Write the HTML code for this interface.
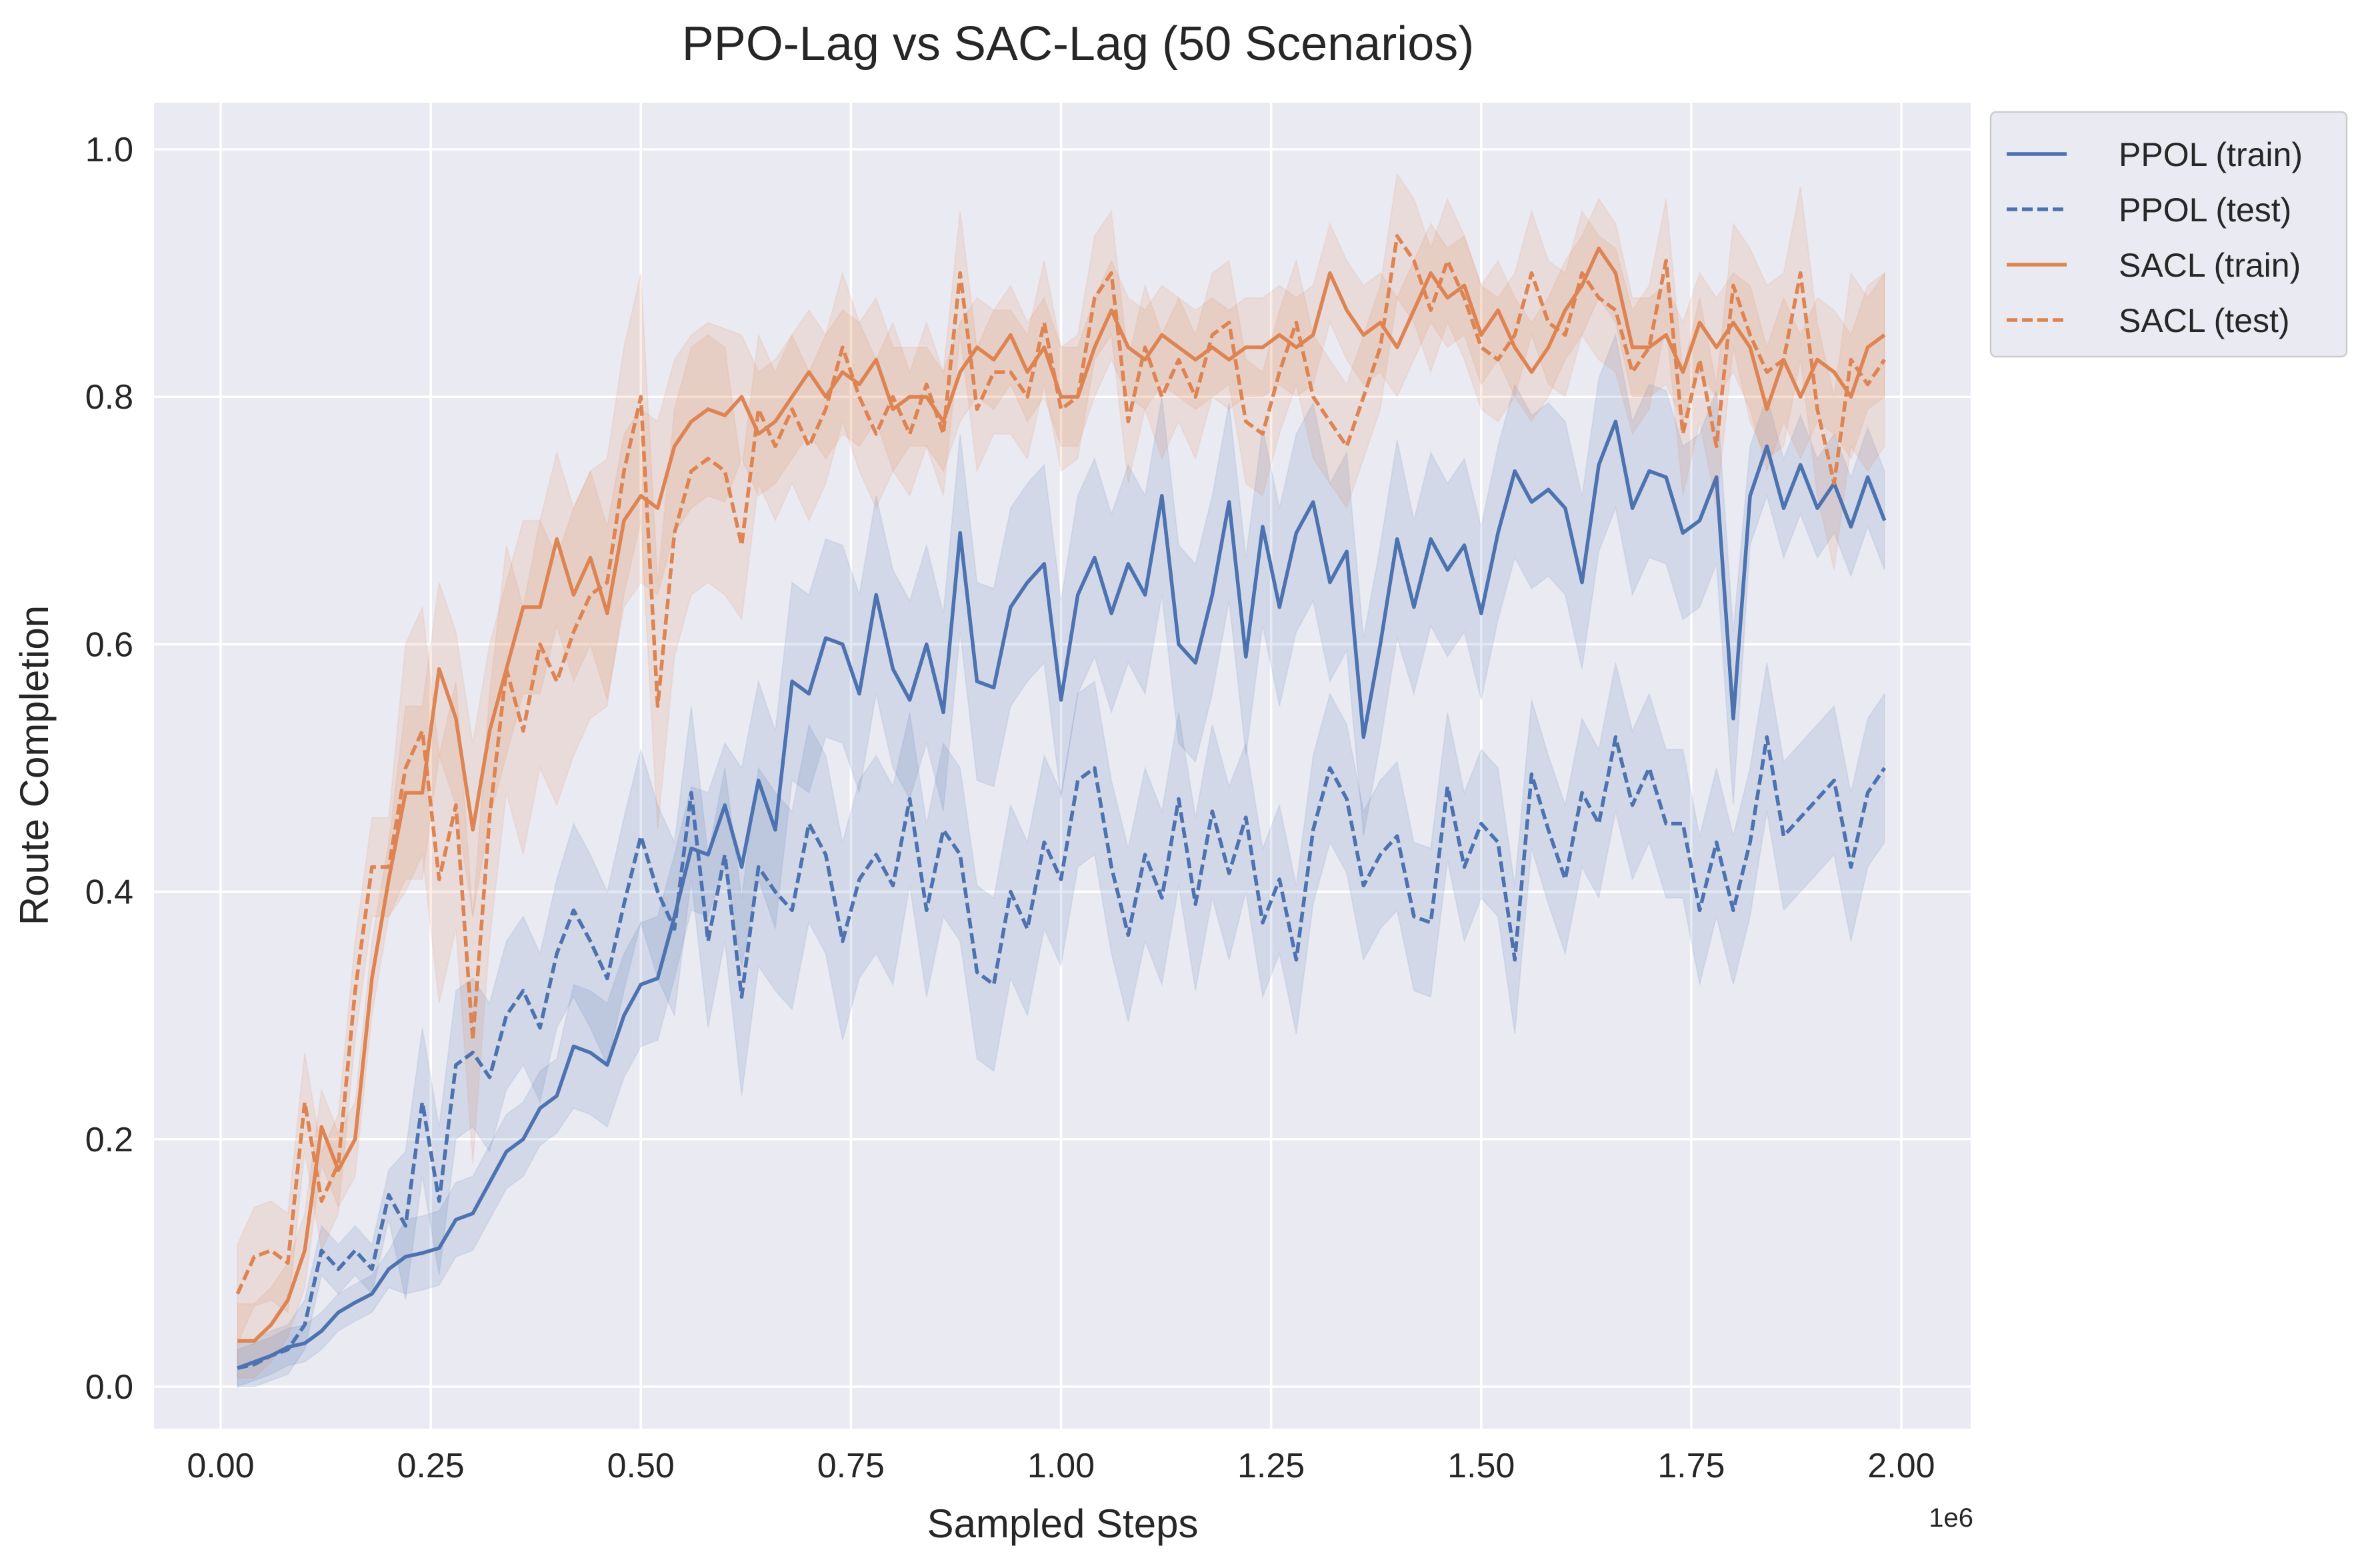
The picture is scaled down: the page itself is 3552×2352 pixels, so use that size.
<!DOCTYPE html>
<html><head><meta charset="utf-8">
<style>
html,body{margin:0;padding:0;background:#fff;}
svg{display:block;font-family:"Liberation Sans",sans-serif;}
</style></head>
<body>
<svg id="chart" width="3552" height="2352" viewBox="0 0 3552 2352" xmlns="http://www.w3.org/2000/svg">
  <rect x="0" y="0" width="3552" height="2352" fill="#ffffff"/>
  <rect x="231" y="154" width="2725" height="1989" fill="#eaeaf2"/>
  <g id="grid"></g>
  <g id="bands"></g>
  <g id="lines"></g>
  <g id="xticks"></g>
  <g id="yticks"></g>
  <text x="1617" y="90" font-size="72" text-anchor="middle" fill="#262626">PPO-Lag vs SAC-Lag (50 Scenarios)</text>
  <text x="1594" y="2306" font-size="60" text-anchor="middle" fill="#262626">Sampled Steps</text>
  <text x="72" y="1148" font-size="60" text-anchor="middle" fill="#262626" transform="rotate(-90 72 1148)">Route Completion</text>
  <text x="2960" y="2290" font-size="40" text-anchor="end" fill="#262626">1e6</text>
  <g>
    <rect x="2986" y="168" width="534" height="367" rx="8" fill="#eaeaf2" stroke="#cccccc" stroke-width="2.5"/>
    <g>
      <line x1="3010" y1="231" x2="3100" y2="231" stroke="#4c72b0" stroke-width="5.5"/>
      <text x="3178" y="249" font-size="50" fill="#262626">PPOL (train)</text>
    </g>
    <g>
      <line x1="3010" y1="314" x2="3100" y2="314" stroke="#4c72b0" stroke-width="5.5" stroke-dasharray="16,7"/>
      <text x="3178" y="332" font-size="50" fill="#262626">PPOL (test)</text>
    </g>
    <g>
      <line x1="3010" y1="397" x2="3100" y2="397" stroke="#dd8452" stroke-width="5.5"/>
      <text x="3178" y="415" font-size="50" fill="#262626">SACL (train)</text>
    </g>
    <g>
      <line x1="3010" y1="480" x2="3100" y2="480" stroke="#dd8452" stroke-width="5.5" stroke-dasharray="16,7"/>
      <text x="3178" y="498" font-size="50" fill="#262626">SACL (test)</text>
    </g>
  </g>
</svg>
<script>
const xTickValues = [0, 0.25, 0.5, 0.75, 1.0, 1.25, 1.5, 1.75, 2.0];
const xTickLabels = ["0.00","0.25","0.50","0.75","1.00","1.25","1.50","1.75","2.00"];
const yTickValues = [0, 0.2, 0.4, 0.6, 0.8, 1.0];
const yTickLabels = ["0.0","0.2","0.4","0.6","0.8","1.0"];
const stepStart = 0.02, stepSize = 0.02;
const ppolTrain = [0.015,0.02,0.025,0.032,0.035,0.045,0.06,0.068,0.075,0.095,0.105,0.108,0.112,0.135,0.14,0.165,0.19,0.2,0.225,0.235,0.275,0.27,0.26,0.3,0.325,0.33,0.38,0.435,0.43,0.47,0.42,0.49,0.45,0.57,0.56,0.605,0.6,0.56,0.64,0.58,0.555,0.6,0.545,0.69,0.57,0.565,0.63,0.65,0.665,0.555,0.64,0.67,0.625,0.665,0.64,0.72,0.6,0.585,0.64,0.715,0.59,0.695,0.63,0.69,0.715,0.65,0.675,0.525,0.6,0.685,0.63,0.685,0.66,0.68,0.625,0.69,0.74,0.715,0.725,0.71,0.65,0.745,0.78,0.71,0.74,0.735,0.69,0.7,0.735,0.54,0.72,0.76,0.71,0.745,0.71,0.73,0.695,0.735,0.7];
const ppolTest = [0.015,0.018,0.025,0.03,0.05,0.11,0.095,0.11,0.095,0.155,0.13,0.23,0.15,0.26,0.27,0.25,0.3,0.32,0.29,0.35,0.385,0.36,0.33,0.39,0.445,0.4,0.37,0.48,0.36,0.43,0.315,0.42,0.4,0.385,0.455,0.43,0.36,0.41,0.43,0.405,0.475,0.385,0.45,0.43,0.335,0.325,0.4,0.37,0.44,0.41,0.49,0.5,0.42,0.365,0.43,0.395,0.475,0.39,0.465,0.415,0.46,0.375,0.41,0.345,0.45,0.5,0.475,0.405,0.43,0.445,0.38,0.375,0.485,0.42,0.455,0.44,0.345,0.495,0.45,0.41,0.48,0.455,0.525,0.47,0.5,0.455,0.455,0.385,0.44,0.385,0.44,0.525,0.445,0.46,0.475,0.49,0.42,0.48,0.5];
const saclTrain = [0.037,0.037,0.05,0.07,0.11,0.21,0.175,0.2,0.33,0.41,0.48,0.48,0.58,0.54,0.45,0.53,0.58,0.63,0.63,0.685,0.64,0.67,0.625,0.7,0.72,0.71,0.76,0.78,0.79,0.785,0.8,0.77,0.78,0.8,0.82,0.8,0.82,0.81,0.83,0.79,0.8,0.8,0.78,0.82,0.84,0.83,0.85,0.82,0.84,0.8,0.8,0.84,0.87,0.84,0.83,0.85,0.84,0.83,0.84,0.83,0.84,0.84,0.85,0.84,0.85,0.9,0.87,0.85,0.86,0.84,0.87,0.9,0.88,0.89,0.85,0.87,0.84,0.82,0.84,0.87,0.89,0.92,0.9,0.84,0.84,0.85,0.82,0.86,0.84,0.86,0.84,0.79,0.83,0.8,0.83,0.82,0.8,0.84,0.85];
const saclTest = [0.075,0.105,0.11,0.1,0.23,0.15,0.18,0.32,0.42,0.42,0.5,0.53,0.41,0.47,0.28,0.46,0.58,0.53,0.6,0.57,0.61,0.64,0.65,0.74,0.8,0.55,0.69,0.74,0.75,0.74,0.68,0.79,0.76,0.79,0.76,0.79,0.84,0.8,0.77,0.8,0.77,0.81,0.77,0.9,0.79,0.82,0.82,0.8,0.86,0.79,0.8,0.88,0.9,0.78,0.84,0.8,0.83,0.8,0.85,0.86,0.78,0.77,0.82,0.86,0.8,0.78,0.76,0.8,0.84,0.93,0.91,0.87,0.91,0.88,0.84,0.83,0.85,0.9,0.86,0.85,0.9,0.88,0.87,0.82,0.84,0.91,0.77,0.83,0.76,0.89,0.85,0.82,0.83,0.9,0.79,0.73,0.83,0.81,0.83];
const ppolTrainSpread = [0.015,0.03,0.05,0.08,0.08,0.08,0.08,0.07,0.07,0.04];
const ppolTestSpread = [0.02,0.06,0.07,0.08,0.07,0.07,0.06,0.06,0.06,0.06];
const saclTrainSpread = [0.03,0.07,0.07,0.05,0.04,0.04,0.04,0.04,0.04,0.05];
const saclTestSpread = [0.04,0.1,0.1,0.06,0.05,0.05,0.05,0.05,0.05,0.07];

const PL=231, PR=2956, PT=154, PB=2143;
const X0=331, X2=2852, Y0=2080, Y1=224;
const xScale = v => X0 + (X2 - X0) * v / 2.0;
const yScale = v => Y0 - (Y0 - Y1) * v;
const NS = "http://www.w3.org/2000/svg";
function mk(tag, attrs, parent){
  const el = document.createElementNS(NS, tag);
  for (const k in attrs) el.setAttribute(k, attrs[k]);
  parent.appendChild(el);
  return el;
}
const grid = document.getElementById('grid');
const xt = document.getElementById('xticks');
const yt = document.getElementById('yticks');
xTickValues.forEach((v,i)=>{
  const x = xScale(v);
  const g = mk('line',{x1:x,y1:PT,x2:x,y2:PB,stroke:'#ffffff','stroke-width':3.5},grid);
  
  
  const t = mk('text',{x:x,y:2216,'font-size':52,'text-anchor':'middle',fill:'#262626'},xt);
  t.textContent = xTickLabels[i];
  
  
});
yTickValues.forEach((v,i)=>{
  const y = yScale(v);
  const g = mk('line',{x1:PL,y1:y,x2:PR,y2:y,stroke:'#ffffff','stroke-width':3.5},grid);
  
  
  const t = mk('text',{x:200,y:y+18,'font-size':52,'text-anchor':'end',fill:'#262626'},yt);
  t.textContent = yTickLabels[i];
  
  
});
const series = [
  {name:'ppol-train', vals:ppolTrain, spread:ppolTrainSpread, color:'#4c72b0', dash:null},
  {name:'ppol-test', vals:ppolTest, spread:ppolTestSpread, color:'#4c72b0', dash:'16,7'},
  {name:'sacl-train', vals:saclTrain, spread:saclTrainSpread, color:'#dd8452', dash:null},
  {name:'sacl-test', vals:saclTest, spread:saclTestSpread, color:'#dd8452', dash:'16,7'}
];
const bandsG = document.getElementById('bands');
const linesG = document.getElementById('lines');
series.forEach(s=>{
  const pts = s.vals.map((v,i)=>[xScale(stepStart + stepSize*i), yScale(v)]);
  const up = s.vals.map((v,i)=>[xScale(stepStart + stepSize*i), yScale(Math.min(1.0, v + s.spread[Math.min(s.spread.length-1, Math.floor(i/10))]))]);
  const lo = s.vals.map((v,i)=>[xScale(stepStart + stepSize*i), yScale(Math.max(0, v - s.spread[Math.min(s.spread.length-1, Math.floor(i/10))]))]);
  const bandD = 'M' + up.map(p=>p[0].toFixed(1)+','+p[1].toFixed(1)).join('L') + 'L' + lo.slice().reverse().map(p=>p[0].toFixed(1)+','+p[1].toFixed(1)).join('L') + 'Z';
  const b = mk('path',{d:bandD,fill:s.color,'fill-opacity':0.15,stroke:s.color,'stroke-opacity':0.1,'stroke-width':2},bandsG);
  
  
  const attrs = {d:'M'+pts.map(p=>p[0].toFixed(1)+','+p[1].toFixed(1)).join('L'),fill:'none',stroke:s.color,'stroke-width':5.5,'stroke-linejoin':'round'};
  if (s.dash) attrs['stroke-dasharray'] = s.dash;
  const l = mk('path',attrs,linesG);
  
  
});
</script>
</body></html>
